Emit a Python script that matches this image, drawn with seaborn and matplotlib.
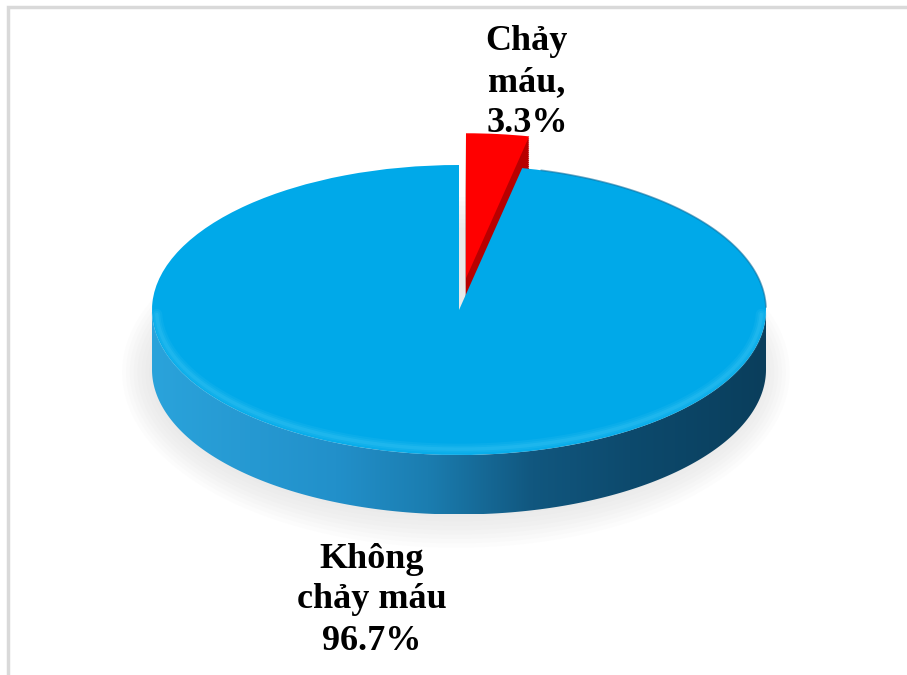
import numpy as np
import matplotlib
matplotlib.use("Agg")
import matplotlib.pyplot as plt
import seaborn as sns
from matplotlib.patches import Polygon, Ellipse, Rectangle
from matplotlib.colors import LinearSegmentedColormap

# ---- data ----
categories = ["Chảy máu", "Không chảy máu"]
values = [3.3, 96.7]
label_texts = ["Chảy\nmáu,\n3.3%", "Không\nchảy máu\n96.7%"]
explode = [0.22, 0.0]

sns.set_theme(style="white")
plt.rcParams['font.family'] = ['Liberation Serif', 'DejaVu Serif']

fig = plt.figure(figsize=(9.07, 6.75), dpi=100)
ax = fig.add_axes([0, 0, 1, 1])

depth = 0.41
pie_kw = dict(startangle=90, counterclock=False, explode=explode)

# soft shadow
for k in range(8):
    ax.add_patch(Ellipse((-0.01, -depth - 0.02), 2.0 + 0.025 * k, 2.0 + 0.06 * k,
                         facecolor="#8c8c8c", edgecolor="none", alpha=0.018, zorder=0.5))

# red slice extrusion (layers)
n = 30
for k in range(n, 0, -1):
    w, _ = ax.pie(values, center=(0, -depth * k / n), colors=["#B80000", "none"],
                  wedgeprops=dict(linewidth=0, zorder=1), **pie_kw)
    w[1].remove()
# red slice top
w, _ = ax.pie(values, colors=["#FF0000", "none"],
              wedgeprops=dict(linewidth=0, zorder=1.5), **pie_kw)
w[1].remove()

# blue side band with gradient
t = np.linspace(np.pi, 2 * np.pi, 300)
upper = np.column_stack([np.cos(t), np.sin(t)])
lower = np.column_stack([np.cos(t[::-1]), np.sin(t[::-1]) - depth])
band = Polygon(np.vstack([upper, lower]), closed=True, facecolor="none", edgecolor="none")
ax.add_patch(band)
cmap = LinearSegmentedColormap.from_list(
    "side", [(0, "#2AA3DB"), (0.3, "#2290CA"), (0.45, "#1B7DB0"),
             (0.62, "#11577F"), (0.78, "#0D4A6D"), (1, "#0A3E5C")])
grad = np.linspace(0, 1, 256).reshape(1, -1)
im = ax.imshow(grad, extent=(-1, 1, -1 - depth, 0.05), aspect="auto", cmap=cmap, zorder=2)
im.set_clip_path(band)

# blue slice top
w, _ = ax.pie(values, colors=["none", "#00A9E9"],
              wedgeprops=dict(linewidth=0, zorder=3), **pie_kw)
w[0].remove()

# soft rim highlight on front, dark rim on back-right
tt = np.linspace(np.pi * 1.01, np.pi * 1.99, 200)
for lw, a in [(8, 0.12), (5, 0.15), (2.5, 0.2)]:
    ax.plot(0.985 * np.cos(tt), 0.96 * np.sin(tt), color="#4CCBF7", lw=lw, alpha=a,
            zorder=3.5, solid_capstyle="round")
tb = np.linspace(0.02, 1.3, 100)
ax.plot(np.cos(tb), np.sin(tb), color="#0A6E9E", lw=1.2, alpha=0.6, zorder=3.5)

# labels
ax.text(0.221, 1.57, label_texts[0], ha="center", va="center", fontsize=26,
        fontweight="bold", linespacing=1.32, color="black", zorder=5)
ax.text(-0.283, -2.0, label_texts[1], ha="center", va="center", fontsize=26,
        fontweight="bold", linespacing=1.32, color="black", zorder=5)

ax.set_xlim(-459 / 307, 448 / 307)
ax.set_ylim(-365 / 145, 310 / 145)
ax.set_aspect("auto")
ax.axis("off")

# outer frame (partially outside the picture, as in the reference)
fig.patches.append(Rectangle((7.5 / 907, -0.1), 1.2, 1 - 7.5 / 675 + 0.1,
                             transform=fig.transFigure, fill=False,
                             edgecolor="#D9D9D9", lw=2.5))

fig.savefig("out.png", dpi=100)
